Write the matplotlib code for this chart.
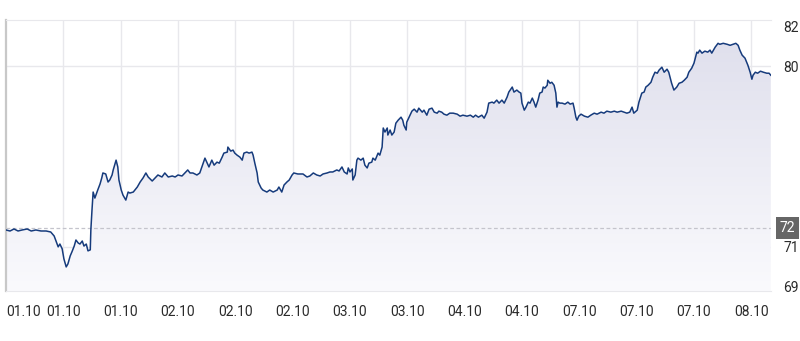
import numpy as np
import matplotlib
matplotlib.use('Agg')
import matplotlib.pyplot as plt
from matplotlib.colors import LinearSegmentedColormap

plt.rcParams['font.family'] = ['Roboto', 'DejaVu Sans']

# time axis in "tick units" (10 per labelled interval), price
t = [0, 0.7, 1.4, 2.1, 2.8, 3.7, 4.4, 5.2, 6.1, 7.0, 7.8, 8.4, 9.1, 9.4, 9.8, 10.1, 10.5, 10.8,
     11.2, 11.5, 11.9, 12.2, 12.6, 12.9, 13.3, 13.6, 14.0, 14.3, 14.7, 14.8, 15.0, 15.2, 15.5, 16.0,
     16.4, 16.7, 16.9, 17.4, 17.8, 18.1, 18.5, 18.7, 19.2, 19.5, 19.7, 20.1, 20.4, 20.9, 21.3, 21.6,
     22.2, 22.9, 23.4, 23.9, 24.4, 24.8, 25.5, 26.0, 26.5, 27.2, 27.7, 28.3, 29.0, 29.5, 30.0, 30.7,
     31.2, 31.7, 32.1, 32.6, 33.3, 33.8, 34.4, 34.7, 35.1, 35.4, 35.9, 36.3, 36.8, 37.2, 37.7, 38.0,
     38.6, 38.7, 39.2, 39.6, 39.9, 40.3, 40.8, 41.2, 41.5, 42.0, 42.4, 42.9, 43.1, 43.4, 43.8, 44.0,
     44.5, 44.8, 45.5, 46.0, 46.6, 47.3, 47.6, 48.1, 48.5, 49.0, 49.4, 49.9, 50.2, 50.9, 51.8, 52.5,
     53.0, 53.6, 54.2, 54.8, 55.3, 56.0, 56.5, 57.0, 57.7, 58.1, 58.6, 59.0, 59.5, 59.7, 60.0, 60.4,
     60.5, 60.9, 61.2, 61.4, 61.9, 62.3, 62.6, 63.0, 63.3, 63.8, 64.0, 64.4, 64.9, 65.2, 65.6, 65.8,
     66.1, 66.5, 66.6, 67.0, 67.3, 67.7, 68.0, 68.4, 68.9, 69.2, 69.4, 69.8, 69.9, 70.3, 70.8, 71.2,
     71.7, 72.0, 72.6, 72.9, 73.4, 73.8, 74.3, 74.7, 75.2, 75.5, 76.0, 76.4, 76.9, 77.4, 78.0, 78.7,
     79.2, 79.7, 80.4, 81.0, 81.5, 81.9, 82.4, 83.0, 83.4, 83.9, 84.2, 84.8, 85.1, 85.6, 86.0, 86.5,
     86.9, 87.4, 87.7, 88.3, 88.6, 89.1, 89.5, 89.8, 90.0, 90.4, 90.7, 91.1, 91.4, 91.8, 92.1, 92.4,
     92.8, 93.1, 93.5, 93.7, 94.0, 94.4, 94.5, 94.9, 95.2, 95.6, 95.9, 96.1, 96.3, 96.6, 97.0, 97.5,
     98.0, 98.4, 98.9, 99.1, 99.4, 99.6, 99.9, 100.3, 100.9, 101.5, 102.0, 102.6, 103.1, 103.8, 104.3,
     104.8, 105.5, 106.1, 106.6, 107.3, 107.8, 108.3, 108.8, 109.2, 109.5, 110.1, 110.4, 110.9, 111.3,
     111.6, 112.0, 112.5, 112.8, 113.2, 113.6, 113.9, 114.4, 114.8, 115.3, 115.6, 116.1, 116.5, 117.0,
     117.4, 117.9, 118.3, 118.8, 119.1, 119.6, 120.0, 120.5, 120.7, 121.0, 121.4, 121.9, 122.4, 122.8,
     123.1, 123.7, 124.2, 124.5, 125.1, 125.8, 126.3, 126.8, 127.3, 127.7, 128.0, 128.4, 128.9, 129.4,
     129.8, 130.1, 130.3, 130.7, 131.1, 131.6, 132.1, 132.7, 133.1, 133.4]
price = [71.84, 71.79, 71.89, 71.79, 71.84, 71.89, 71.79, 71.84, 71.79, 71.79, 71.74, 71.54, 71.0, 71.14,
         70.90, 70.40, 70.0, 70.15, 70.55, 70.75, 71.04, 71.34, 71.19, 71.14, 71.29, 71.04, 71.14, 70.80,
         70.85, 71.84, 72.84, 73.73, 73.43, 73.83, 74.13, 74.43, 74.68, 74.63, 74.23, 74.33, 74.58, 74.83,
         75.32, 74.98, 74.33, 73.83, 73.58, 73.33, 73.73, 73.68, 73.73, 73.98, 74.23, 74.43, 74.68, 74.48,
         74.28, 74.43, 74.58, 74.48, 74.68, 74.48, 74.53, 74.48, 74.58, 74.53, 74.68, 74.83, 74.68, 74.68,
         74.58, 74.68, 75.17, 75.42, 75.17, 74.98, 75.32, 75.07, 75.22, 75.17, 75.47, 75.67, 75.72, 75.97,
         75.77, 75.82, 75.67, 75.57, 75.47, 75.32, 75.67, 75.72, 75.67, 75.72, 75.57, 75.17, 74.68, 74.23,
         73.93, 73.83, 73.73, 73.83, 73.73, 73.83, 73.98, 73.73, 74.08, 74.23, 74.33, 74.58, 74.68, 74.63,
         74.63, 74.48, 74.53, 74.68, 74.58, 74.53, 74.63, 74.68, 74.73, 74.73, 74.83, 74.78, 74.98, 74.73,
         74.63, 74.93, 74.73, 74.88, 74.33, 74.58, 75.32, 75.42, 75.32, 75.42, 75.07, 74.93, 75.17, 75.22,
         75.42, 75.32, 75.67, 75.57, 75.97, 76.92, 76.72, 76.92, 76.57, 76.82, 76.57, 76.72, 77.16, 77.31,
         77.46, 77.31, 77.06, 76.82, 77.21, 77.46, 77.76, 77.86, 77.71, 77.91, 77.71, 77.81, 77.56, 77.86,
         77.91, 77.71, 77.66, 77.76, 77.71, 77.61, 77.56, 77.66, 77.66, 77.61, 77.51, 77.56, 77.51, 77.56,
         77.46, 77.56, 77.46, 77.56, 77.41, 77.71, 78.16, 78.21, 78.16, 78.31, 78.16, 78.31, 78.16, 78.46,
         78.71, 78.96, 78.71, 78.81, 78.71, 78.66, 78.16, 77.81, 77.96, 78.21, 78.16, 78.41, 78.21, 77.96,
         78.31, 78.66, 78.71, 78.96, 78.91, 79.05, 79.30, 79.15, 79.20, 79.05, 78.66, 77.96, 78.21, 78.16,
         78.16, 78.11, 78.21, 78.11, 78.16, 77.91, 77.46, 77.31, 77.51, 77.61, 77.51, 77.46, 77.56, 77.66,
         77.61, 77.71, 77.66, 77.76, 77.71, 77.76, 77.71, 77.76, 77.71, 77.66, 77.71, 77.96, 77.66, 77.81,
         78.21, 78.66, 78.71, 78.96, 79.05, 79.20, 79.45, 79.70, 79.65, 79.80, 79.95, 79.70, 79.85, 79.70,
         79.15, 78.81, 78.96, 79.15, 79.20, 79.30, 79.45, 79.70, 79.90, 80.15, 80.70, 80.65, 80.80, 80.65,
         80.75, 80.70, 80.80, 80.65, 80.95, 81.14, 81.09, 81.14, 81.09, 81.04, 81.09, 81.14, 81.04, 80.80,
         80.55, 80.40, 80.05, 79.70, 79.35, 79.55, 79.70, 79.65, 79.75, 79.70, 79.65, 79.65, 79.55]

prev_close = 71.94
tick_pos = [0, 10, 20, 30, 40, 50, 60, 70, 80, 90, 100, 110, 120, 130]
tick_labels = ['01.10', '01.10', '01.10', '02.10', '02.10', '02.10', '03.10', '03.10',
               '04.10', '04.10', '07.10', '07.10', '07.10', '08.10']
y_ticks = [69, 71, 80, 82]

fig = plt.figure(figsize=(8, 3.41), dpi=100)
ax = fig.add_axes([0.0075, 0.1466, 0.956, 0.7947])
ymin, ymax = 68.8, 82.3
ax.set_xlim(0, t[-1])
ax.set_ylim(ymin, ymax)

# gradient area under the line
cmap = LinearSegmentedColormap.from_list('fill', ['#fafafd', '#e0e0ed'])
grad = np.linspace(0, 1, 256).reshape(-1, 1)
img = ax.imshow(grad, cmap=cmap, aspect='auto', origin='lower',
                extent=[0, t[-1], ymin, max(price)], zorder=1)
poly = ax.fill_between(t, price, ymin, color='none', lw=0)
img.set_clip_path(poly.get_paths()[0], transform=ax.transData)

ax.plot(t, price, color='#163b7c', lw=1.1, zorder=3)

# grid
for x in tick_pos[1:]:
    ax.axvline(x, color='#e8e8ec', lw=1, zorder=0.5)
for y in [71, 80]:
    ax.axhline(y, color='#e8e8ec', lw=1, zorder=0.5)
ax.axhline(prev_close, color='#c4c4cc', lw=0.9, dashes=(3, 2), zorder=2)

ax.spines['right'].set_visible(False)
ax.spines['top'].set_color('#e8e8ec')
ax.spines['bottom'].set_color('#e8e8ec')
ax.spines['left'].set_color('#c8c8c8')
ax.spines['left'].set_linewidth(1.6)

ax.set_xticks(tick_pos)
ax.set_xticklabels(tick_labels)
ax.get_xticklabels()[0].set_horizontalalignment('left')
ax.tick_params(axis='x', length=0, pad=10, labelsize=10, colors='#2b2b2b')
ax.yaxis.tick_right()
ax.set_yticks(y_ticks)
ax.tick_params(axis='y', length=0, pad=9, labelsize=10, colors='#2b2b2b')

# previous close marker box
ax.annotate('%d' % round(prev_close), xy=(1.0, prev_close), xycoords=ax.get_yaxis_transform(),
            xytext=(9, 0), textcoords='offset pixels', ha='left', va='center',
            color='white', fontsize=10,
            bbox=dict(boxstyle='square,pad=0.3', fc='#666666', ec='none'))

fig.savefig('out.png', dpi=100)
